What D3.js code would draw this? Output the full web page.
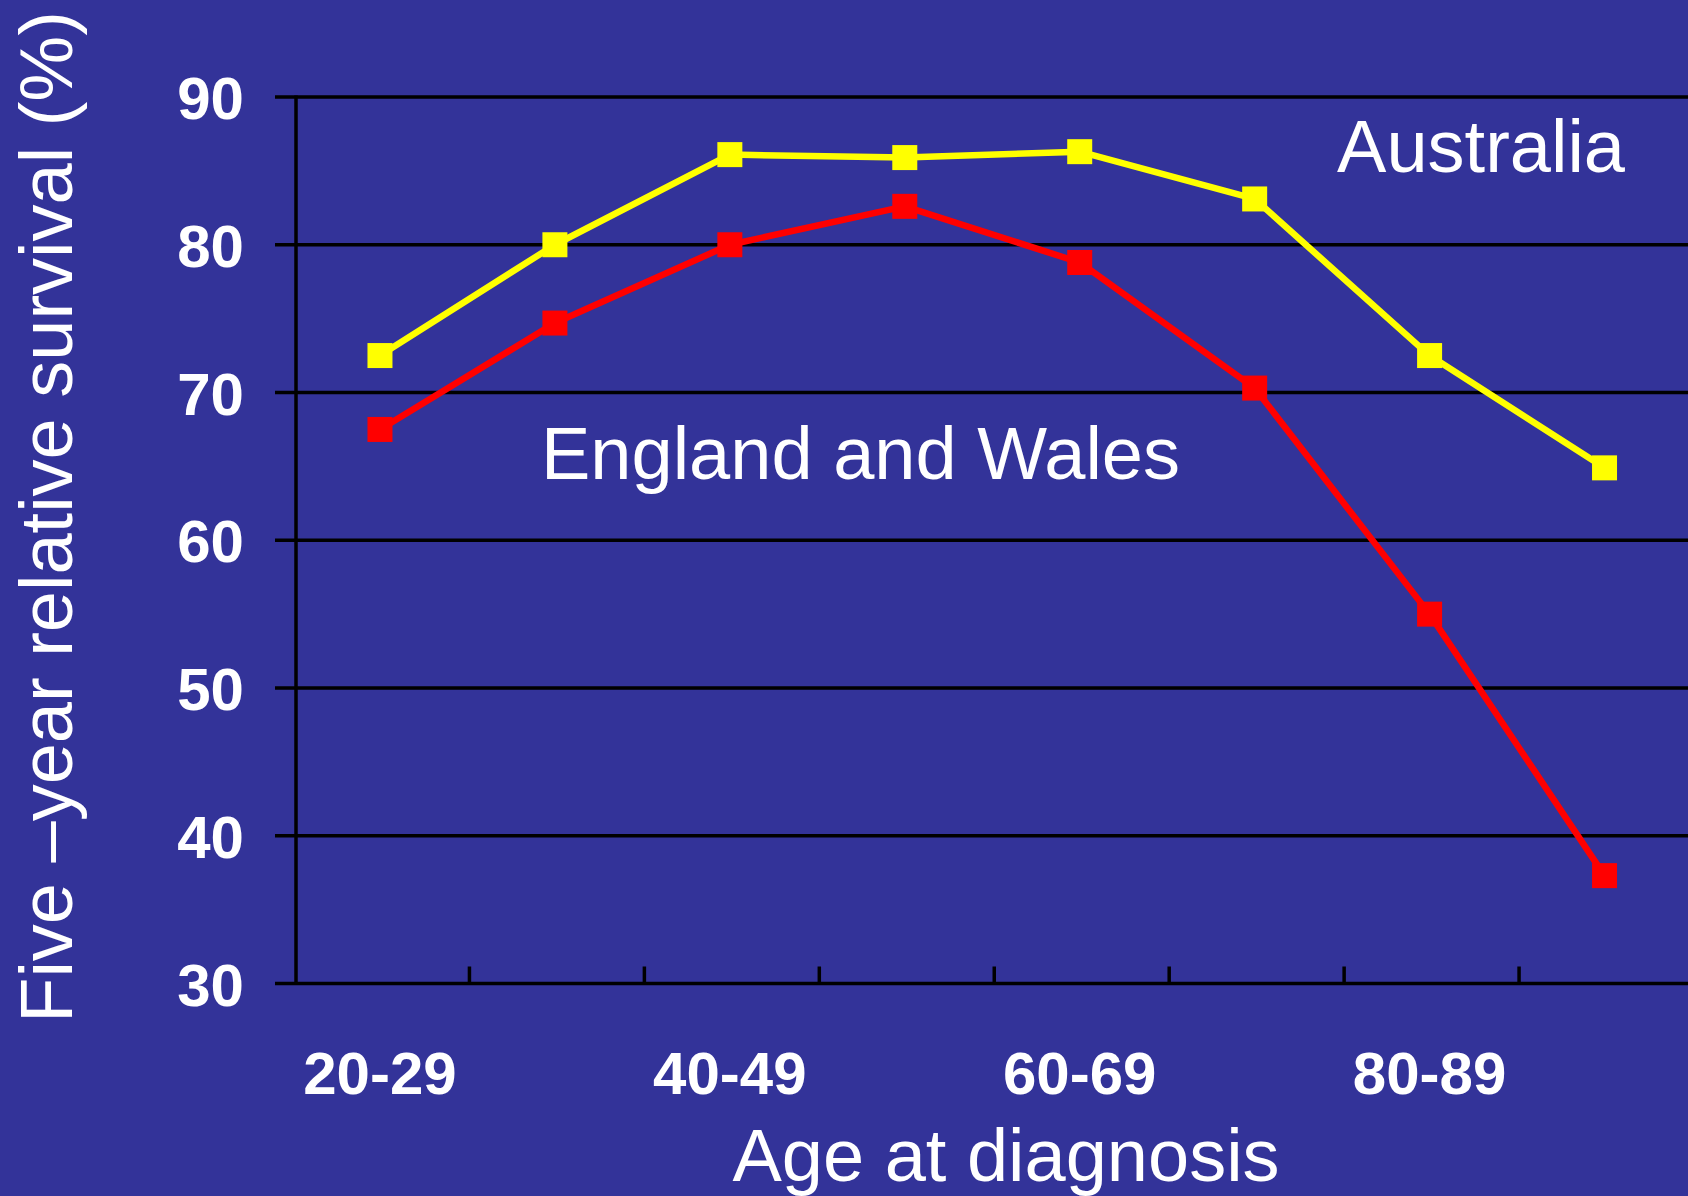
<!DOCTYPE html>
<html>
<head>
<meta charset="utf-8">
<script src="https://cdn.jsdelivr.net/npm/d3@7"></script>
<style>
  html, body { margin: 0; padding: 0; background: #333399; }
  svg { display: block; }
  text { font-family: "Liberation Sans", Arial, sans-serif; fill: #ffffff; }
</style>
</head>
<body>
<script>
const categories = ["20-29", "30-39", "40-49", "50-59", "60-69", "70-79", "80-89", "90+"];
const australia = [72.5, 80.0, 86.1, 85.9, 86.3, 83.1, 72.5, 64.9];
const englandWales = [67.5, 74.7, 80.0, 82.6, 78.8, 70.3, 55.0, 37.3];
const yTicks = [30, 40, 50, 60, 70, 80, 90];
const xLabelShown = ["20-29", "40-49", "60-69", "80-89"];
const seriesNames = ["Australia", "England and Wales"];
const seriesColors = ["#ffff00", "#ff0000"];

const W = 1688, H = 1196;
const axisX = 296;

const svg = d3.select("body").append("svg")
  .attr("width", W).attr("height", H);

svg.append("rect").attr("width", W).attr("height", H).attr("fill", "#333399");

const y = d3.scaleLinear().domain([30, 90]).range([983.5, 97]);
const x = d3.scaleBand().domain(categories).range([292.5, 1692]).padding(0);

// gridlines + y tick marks
svg.append("g").selectAll("line").data(yTicks).join("line")
  .attr("x1", 275).attr("x2", W)
  .attr("y1", d => y(d)).attr("y2", d => y(d))
  .attr("stroke", "#000").attr("stroke-width", 3.5);

// y axis line
svg.append("line")
  .attr("x1", axisX).attr("x2", axisX)
  .attr("y1", y(90) - 1.5).attr("y2", y(30) + 1.5)
  .attr("stroke", "#000").attr("stroke-width", 3.5);

// x tick marks at category boundaries
svg.append("g").selectAll("line").data(categories.slice(1)).join("line")
  .attr("x1", d => x(d) + 2).attr("x2", d => x(d) + 2)
  .attr("y1", y(30)).attr("y2", y(30) - 17)
  .attr("stroke", "#000").attr("stroke-width", 3.5);

// y tick labels
svg.append("g").selectAll("text").data(yTicks).join("text")
  .attr("x", 244).attr("y", d => y(d) + 22)
  .attr("text-anchor", "end")
  .attr("font-weight", "bold").attr("font-size", 60)
  .text(d => d);

// x tick labels
svg.append("g").selectAll("text").data(xLabelShown).join("text")
  .attr("x", d => x(d) + x.bandwidth() / 2)
  .attr("y", 1094)
  .attr("text-anchor", "middle")
  .attr("font-weight", "bold").attr("font-size", 60)
  .text(d => d);

// series
const allSeries = [australia, englandWales];
const line = d3.line()
  .x((d, i) => x(categories[i]) + x.bandwidth() / 2)
  .y(d => y(d));

allSeries.forEach((vals, si) => {
  const g = svg.append("g");
  g.append("path").datum(vals)
    .attr("d", line)
    .attr("fill", "none")
    .attr("stroke", seriesColors[si])
    .attr("stroke-width", 6.5)
    .attr("stroke-linejoin", "round");
  g.selectAll("rect").data(vals).join("rect")
    .attr("x", (d, i) => x(categories[i]) + x.bandwidth() / 2 - 12.5)
    .attr("y", d => y(d) - 12.5)
    .attr("width", 25).attr("height", 25)
    .attr("fill", seriesColors[si]);
});

// series labels
svg.append("text")
  .attr("x", 1625).attr("y", 172)
  .attr("text-anchor", "end")
  .attr("font-size", 74)
  .text(seriesNames[0]);

svg.append("text")
  .attr("x", 541).attr("y", 479)
  .attr("text-anchor", "start")
  .attr("font-size", 74)
  .text(seriesNames[1]);

// axis titles
svg.append("text")
  .attr("x", 1006).attr("y", 1181)
  .attr("text-anchor", "middle")
  .attr("font-size", 74)
  .text("Age at diagnosis");

svg.append("text")
  .attr("transform", "translate(72,517) rotate(-90)")
  .attr("text-anchor", "middle")
  .attr("font-size", 74)
  .text("Five \u2013year relative survival (%)");
</script>
</body>
</html>
